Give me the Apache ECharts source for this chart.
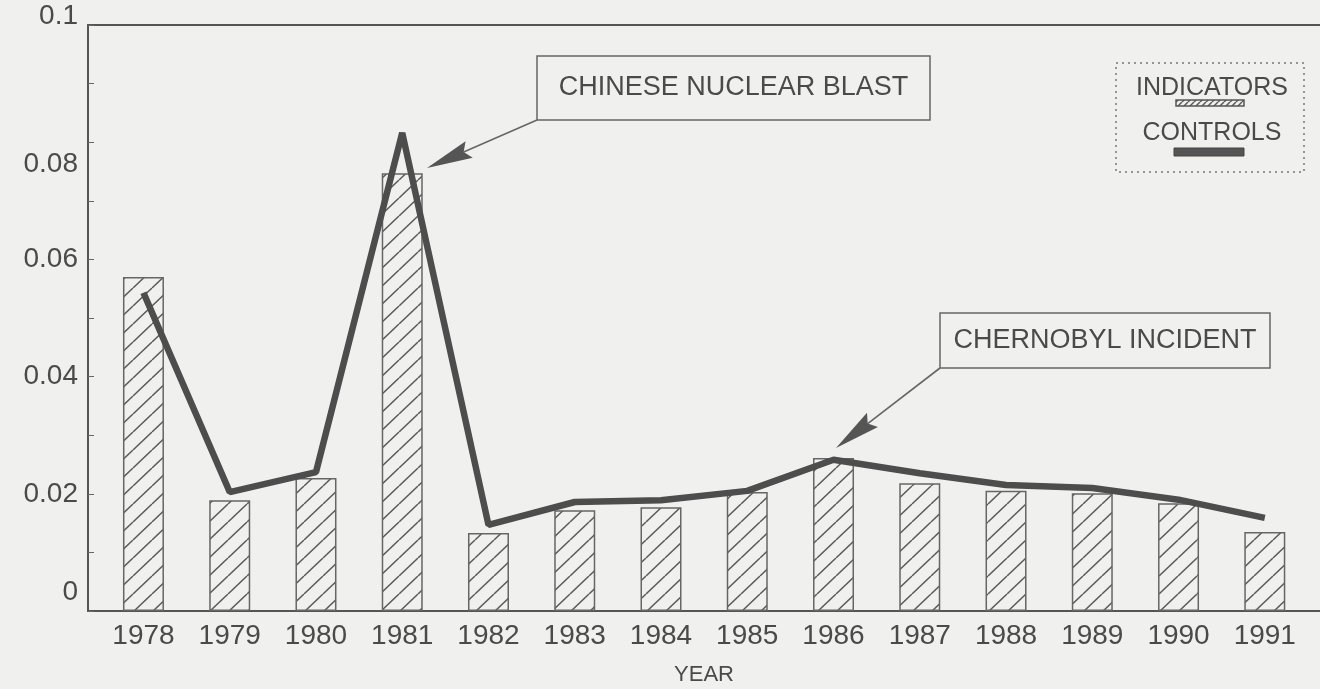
<!DOCTYPE html>
<html lang="en">
<head>
    <meta charset="utf-8">
    <title>Indicators vs controls</title>
    <script type="text/javascript" src="https://cdn.jsdelivr.net/npm/echarts@6/dist/echarts.min.js"></script>
    <style>
        html, body { margin: 0; padding: 0; background: #f0f0ee; }
        #chart { width: 1320px; height: 689px; }
    </style>
</head>
<body>
<div id="chart"></div>
<script type="text/javascript">
    // data
    var years = [1978, 1979, 1980, 1981, 1982, 1983, 1984, 1985, 1986, 1987, 1988, 1989, 1990, 1991];
    var indicators = [0.0570, 0.0189, 0.0227, 0.0747, 0.0133, 0.0172, 0.0177, 0.0203, 0.0261, 0.0218, 0.0205, 0.0201, 0.0184, 0.0135];
    var controls = [0.0543, 0.0203, 0.0237, 0.0816, 0.0147, 0.0186, 0.0189, 0.0205, 0.0258, 0.0235, 0.0215, 0.0210, 0.0190, 0.0159];
    var notes = ['CHINESE NUCLEAR BLAST', 'CHERNOBYL INCIDENT'];
    var legendNames = ['INDICATORS', 'CONTROLS'];

    var ink = '#4a4a4a';
    var font = 'Liberation Sans';

    // "/" hatch tile
    function hatch(w, h) {
        var c = document.createElement('canvas');
        c.width = w; c.height = h;
        var ctx = c.getContext('2d');
        ctx.strokeStyle = '#5a5a5a';
        ctx.lineWidth = 1.5;
        [-w, 0, w].forEach(function (dx) {
            ctx.beginPath();
            ctx.moveTo(dx, h);
            ctx.lineTo(dx + w, 0);
            ctx.stroke();
        });
        return c;
    }
    var hatchTile = hatch(19, 18);

    // annotation arrow: thin shaft + long wedge head
    function arrow(x0, y0, x1, y1, headLen, headW) {
        var dx = x1 - x0, dy = y1 - y0, L = Math.sqrt(dx * dx + dy * dy);
        var ux = dx / L, uy = dy / L, nx = -uy, ny = ux;
        var bx = x1 - ux * headLen, by = y1 - uy * headLen;
        return [
            {type: 'line', shape: {x1: x0, y1: y0, x2: bx + ux * 6, y2: by + uy * 6},
                style: {stroke: '#666', lineWidth: 1.6}},
            {type: 'polygon', shape: {points: [
                [x1, y1], [bx + nx * headW, by + ny * headW],
                [bx + ux * 6, by + uy * 6], [bx - nx * headW, by - ny * headW]]},
                style: {fill: '#555'}}
        ];
    }

    function noteBox(x, y, w, h, text) {
        return [
            {type: 'rect', shape: {x: x, y: y, width: w, height: h},
                style: {fill: 'none', stroke: '#666', lineWidth: 1.5}},
            {type: 'text', x: x + w / 2, y: y + h / 2,
                style: {text: text, fill: ink, font: '27px "' + font + '"', align: 'center', verticalAlign: 'middle'}}
        ];
    }

    var graphics = []
        .concat(noteBox(537, 56, 393, 64, notes[0]))
        .concat(arrow(537, 120, 427, 168, 46, 9))
        .concat(noteBox(940, 313, 330, 55, notes[1]))
        .concat(arrow(940, 368, 836, 448, 46, 9))
        .concat([
            {type: 'rect', shape: {x: 1116, y: 63, width: 188, height: 109},
                style: {fill: 'none', stroke: '#777', lineWidth: 1.5, lineDash: [2, 4]}},
            {type: 'text', x: 1212, y: 88,
                style: {text: legendNames[0], fill: ink, font: '25px "' + font + '"', align: 'center', verticalAlign: 'middle'}},
            {type: 'rect', shape: {x: 1176, y: 100, width: 68, height: 6},
                style: {fill: {image: hatch(6, 6), repeat: 'repeat'}, stroke: '#555', lineWidth: 1.5}},
            {type: 'text', x: 1212, y: 133,
                style: {text: legendNames[1], fill: ink, font: '25px "' + font + '"', align: 'center', verticalAlign: 'middle'}},
            {type: 'rect', shape: {x: 1174, y: 148, width: 70, height: 8},
                style: {fill: '#555', stroke: '#444', lineWidth: 1}}
        ]);

    var xMin = 1977.357, xMax = 1991.64;

    // the plotter set a few y labels off their ticks
    var yLabelShift = {'0': 'up2', '0.1': 'up1', '0.08': 'down'};

    var chart = echarts.init(document.getElementById('chart'));
    var option = {
        backgroundColor: '#f0f0ee',
        animation: false,
        grid: {left: 88, right: 0, top: 25, bottom: 78, outerBoundsMode: 'none'},
        xAxis: [{
            type: 'value',
            min: xMin,
            max: xMax,
            name: 'YEAR',
            nameLocation: 'middle',
            nameGap: 53,
            nameTextStyle: {color: ink, fontSize: 22, fontFamily: font},
            axisLine: {lineStyle: {color: '#555', width: 2}},
            axisTick: {show: false},
            splitLine: {show: false},
            axisLabel: {
                customValues: years,
                color: ink, fontSize: 28, fontFamily: font, margin: 11,
                formatter: function (v) { return String(v); }
            }
        }, {
            type: 'value',
            position: 'top',
            min: xMin,
            max: xMax,
            axisLine: {show: true, lineStyle: {color: '#555', width: 2}},
            axisTick: {show: false},
            axisLabel: {show: false},
            splitLine: {show: false}
        }],
        yAxis: {
            type: 'value',
            min: 0,
            max: 0.1,
            interval: 0.02,
            axisLine: {show: true, lineStyle: {color: '#555', width: 2}},
            axisTick: {show: true, inside: true, length: 6, lineStyle: {color: '#666'}},
            minorTick: {show: true, splitNumber: 2, length: 6, lineStyle: {color: '#666'}},
            splitLine: {show: false},
            axisLabel: {
                color: ink, fontSize: 28, fontFamily: font, margin: 10,
                formatter: function (v) {
                    var s = String(+v.toFixed(2));
                    return yLabelShift[s] ? '{' + yLabelShift[s] + '|' + s + '}' : s;
                },
                rich: {
                    up1: {fontSize: 28, fontFamily: font, color: ink, padding: [0, 0, 18, 0]},
                    up2: {fontSize: 28, fontFamily: font, color: ink, padding: [0, 0, 38, 0]},
                    down: {fontSize: 28, fontFamily: font, color: ink, padding: [44, 0, 0, 0]}
                }
            }
        },
        series: [{
            name: legendNames[0],
            type: 'bar',
            barWidth: 41,
            data: years.map(function (y, i) { return [y, indicators[i]]; }),
            itemStyle: {
                color: {image: hatchTile, repeat: 'repeat'},
                borderColor: '#666',
                borderWidth: 1.5
            },
            emphasis: {disabled: true}
        }, {
            name: legendNames[1],
            type: 'line',
            data: years.map(function (y, i) { return [y, controls[i]]; }),
            showSymbol: false,
            symbol: 'none',
            lineStyle: {color: '#4d4d4d', width: 6.5},
            emphasis: {disabled: true},
            z: 3
        }],
        graphic: graphics
    };
    chart.setOption(option);
</script>
</body>
</html>
